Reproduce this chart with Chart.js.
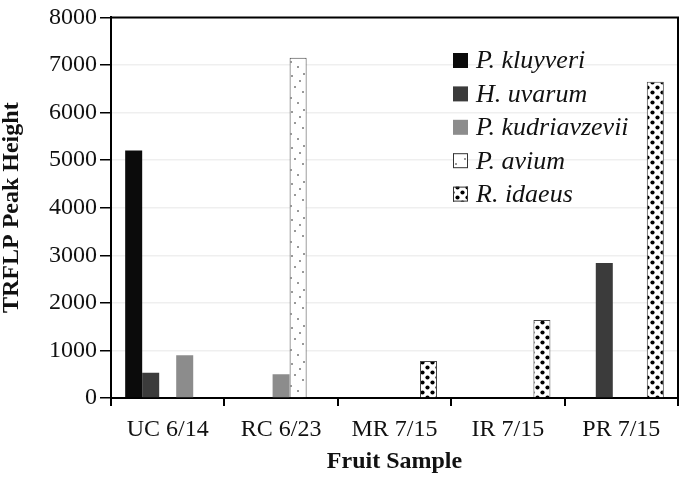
<!DOCTYPE html>
<html>
<head>
<meta charset="utf-8">
<script src="https://cdn.jsdelivr.net/npm/chart.js@4/dist/chart.umd.min.js"></script>
<style>
  html, body { margin: 0; padding: 0; background: #fff; }
  #wrap { width: 680px; height: 478px; }
</style>
</head>
<body>
<div id="wrap"><canvas id="chart" width="680" height="478"></canvas></div>
<script>
// ==================== Data ====================
const samples      = ['UC 6/14', 'RC 6/23', 'MR 7/15', 'IR 7/15', 'PR 7/15'];
const speciesNames = ['P. kluyveri', 'H. uvarum', 'P. kudriavzevii', 'P. avium', 'R. idaeus'];
const kluyveri     = [5200, 0, 0, 0, 0];
const uvarum       = [530, 0, 0, 0, 2840];
const kudriavzevii = [900, 500, 0, 0, 0];
const avium        = [0, 7150, 0, 0, 0];
const idaeus       = [0, 0, 780, 1640, 6650];
const yTicks       = [0, 1000, 2000, 3000, 4000, 5000, 6000, 7000, 8000];
// in the source figure the UC 6/14 kudriavzevii bar sits in the 4th slot of its group
const kudriavzeviiSlot = [3, 2, 2, 2, 2];

// ==================== Fills ====================
function dotPattern(w, h, dots, r) {
    const c = document.createElement('canvas');
    c.width = w; c.height = h;
    const g = c.getContext('2d');
    g.fillStyle = '#fff';
    g.fillRect(0, 0, w, h);
    g.fillStyle = '#000';
    dots.forEach(([x, y]) => { g.beginPath(); g.arc(x, y, r, 0, Math.PI * 2); g.fill(); });
    return g.createPattern(c, 'repeat');
}

const COL_KLUY = '#0b0b0b';
const COL_UVAR = '#3b3b3b';
const COL_KUDR = '#8c8c8c';
const PAT_AVIUM = dotPattern(17, 36, [[3,4],[11,9],[6,15],[14,20],[2,26],[9,31],[15,2]], 0.75);
const PAT_IDAEUS = dotPattern(10, 10, [[2.5,2.5],[7.5,7.5]], 2.1);

const fills = [COL_KLUY, COL_UVAR, COL_KUDR, PAT_AVIUM, PAT_IDAEUS];

const kudrData  = kudriavzevii.map((v, i) => kudriavzeviiSlot[i] === 2 ? v : 0);
const aviumData = avium.map((v, i) => kudriavzeviiSlot[i] === 3 ? kudriavzevii[i] : v);
const aviumFill = samples.map((_, i) => kudriavzeviiSlot[i] === 3 ? COL_KUDR : PAT_AVIUM);
const aviumBorder = samples.map((_, i) => kudriavzeviiSlot[i] === 3 ? 0 : 1);

// ==================== Plugins ====================
const framePlugin = {
    id: 'frame',
    afterDraw(chart) {
        const { ctx, chartArea: a } = chart;
        ctx.save();
        ctx.strokeStyle = '#000';
        ctx.lineWidth = 2;
        ctx.beginPath();
        ctx.moveTo(a.left, a.top);
        ctx.lineTo(a.right, a.top);
        ctx.lineTo(a.right, a.bottom);
        ctx.stroke();
        ctx.restore();
    }
};

const legendPlugin = {
    id: 'boxLegend',
    afterDraw(chart) {
        const ctx = chart.ctx;
        const x = 453, y0 = 53, step = 33.4, box = 15;
        ctx.save();
        ctx.font = 'italic 26px "Liberation Serif", "Times New Roman", serif';
        ctx.textBaseline = 'middle';
        speciesNames.forEach((name, i) => {
            const y = y0 + i * step;
            ctx.fillStyle = fills[i];
            ctx.fillRect(x, y, box, box);
            if (i >= 3) {
                ctx.strokeStyle = '#333';
                ctx.lineWidth = 1;
                ctx.strokeRect(x + 0.5, y + 0.5, box - 1, box - 1);
            }
            ctx.fillStyle = '#111';
            ctx.fillText(name, x + 23, y + box / 2 + 1);
        });
        ctx.restore();
    }
};

// ==================== Chart ====================
const SERIF = '"Liberation Serif", "Times New Roman", serif';

new Chart(document.getElementById('chart').getContext('2d'), {
    type: 'bar',
    data: {
        labels: samples,
        datasets: [
            { label: speciesNames[0], data: kluyveri, backgroundColor: COL_KLUY, borderWidth: 0 },
            { label: speciesNames[1], data: uvarum, backgroundColor: COL_UVAR, borderWidth: 0 },
            { label: speciesNames[2], data: kudrData, backgroundColor: COL_KUDR, borderWidth: 0 },
            { label: speciesNames[3], data: aviumData, backgroundColor: aviumFill, borderColor: '#444', borderWidth: aviumBorder },
            { label: speciesNames[4], data: idaeus, backgroundColor: PAT_IDAEUS, borderColor: '#444', borderWidth: 1 }
        ]
    },
    options: {
        responsive: false,
        animation: false,
        devicePixelRatio: 1,
        layout: { padding: { left: 0, right: 2, top: 8, bottom: 0 } },
        datasets: { bar: { categoryPercentage: 0.75, barPercentage: 1.0 } },
        plugins: { legend: { display: false }, tooltip: { enabled: false } },
        scales: {
            x: {
                offset: true,
                grid: { offset: true, drawOnChartArea: false, drawTicks: true, tickLength: 8, tickColor: '#000', lineWidth: 2 },
                border: { display: true, color: '#000', width: 2 },
                ticks: { color: '#111', padding: 9, font: { family: SERIF, size: 24 } },
                title: { display: true, text: 'Fruit Sample', color: '#111', font: { family: SERIF, size: 24, weight: 'bold' }, padding: { top: 0, bottom: 2 } },
                afterFit: s => { s.height = 80; }
            },
            y: {
                min: 0, max: 8000,
                afterBuildTicks: s => { s.ticks = yTicks.map(v => ({ value: v })); },
                grid: { color: '#efefef', lineWidth: 1.5, tickColor: '#000', tickLength: 11, drawTicks: true },
                border: { display: true, color: '#000', width: 2 },
                ticks: { color: '#111', padding: 3, font: { family: SERIF, size: 24 }, callback: v => String(v) },
                title: { display: true, text: 'TRFLP Peak Height', color: '#111', font: { family: SERIF, size: 24, weight: 'bold', lineHeight: 1 }, padding: { top: 0, bottom: 0 } },
                afterFit: s => { s.width = 111; }
            }
        }
    },
    plugins: [framePlugin, legendPlugin]
});
</script>
</body>
</html>
